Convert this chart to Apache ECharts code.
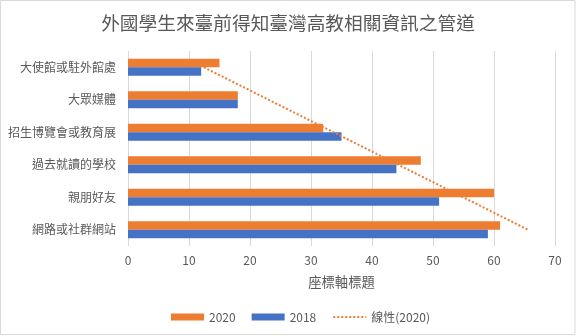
<!DOCTYPE html>
<html><head><meta charset="utf-8">
<script src="https://cdn.jsdelivr.net/npm/echarts@6/dist/echarts.min.js"></script>
<style>html,body{margin:0;padding:0;background:#fff}#c{width:576px;height:336px}</style>
</head><body><div id="c"></div>
<script>
const categories = ['大使館或駐外館處','大眾媒體','招生博覽會或教育展','過去就讀的學校','親朋好友','網路或社群網站'];
const values2020 = [15, 18, 32, 48, 60, 61];
const values2018 = [12, 18, 35, 44, 51, 59];
const xTicks = [0, 10, 20, 30, 40, 50, 60, 70];
const titleText = '外國學生來臺前得知臺灣高教相關資訊之管道';
const axisTitle = '座標軸標題';
const trendName = '線性(2020)';

// Linear trendline (least squares) of 2020 series over category index
const n = values2020.length;
const xs = values2020.map((_, i) => i + 1);
const mx = xs.reduce((a, b) => a + b, 0) / n;
const my = values2020.reduce((a, b) => a + b, 0) / n;
let sxy = 0, sxx = 0;
xs.forEach((x, i) => { sxy += (x - mx) * (values2020[i] - my); sxx += (x - mx) * (x - mx); });
const slope = sxy / sxx, icpt = my - slope * mx;
const trend = [[slope * 1 + icpt, 0], [slope * n + icpt, n - 1]];

const FONT = '"Noto Sans CJK TC", "Noto Sans", sans-serif';
const chart = echarts.init(document.getElementById('c'));
chart.setOption({
  animation: false,
  textStyle: { fontFamily: FONT },
  title: { text: titleText, left: 'center', top: 9, textStyle: { fontFamily: FONT, fontSize: 18.7, fontWeight: 'normal', color: '#595959' } },
  graphic: [{ type: 'rect', shape: { x: 0.5, y: 0.5, width: 574.5, height: 334 }, style: { fill: 'none', stroke: '#D9D9D9', lineWidth: 1 }, silent: true }],
  grid: { left: 128, right: 21, top: 51, bottom: 90, containLabel: false },
  legend: {
    left: 166, top: 306, itemWidth: 33, itemHeight: 7, itemGap: 16,
    textStyle: { fontFamily: FONT, fontSize: 12, color: '#595959' },
    data: [
      { name: '2020', icon: 'rect' },
      { name: '2018', icon: 'rect' },
      { name: trendName, itemStyle: { opacity: 0 } }
    ]
  },
  xAxis: {
    type: 'value', min: 0, max: 70, interval: 10,
    name: axisTitle, nameLocation: 'middle', nameGap: 29,
    nameTextStyle: { fontFamily: FONT, fontSize: 13.3, color: '#595959' },
    axisLine: { show: false }, axisTick: { show: false },
    axisLabel: { fontFamily: FONT, fontSize: 12, color: '#595959', margin: 8 },
    splitLine: { show: true, lineStyle: { color: '#D9D9D9', width: 1 } }
  },
  yAxis: {
    type: 'category', data: categories, inverse: true,
    axisLine: { show: false }, axisTick: { show: false },
    axisLabel: { fontFamily: FONT, fontSize: 12, color: '#595959', margin: 12 }
  },
  series: [
    { name: '2020', type: 'bar', data: values2020, barWidth: 8.5, barGap: '0%', itemStyle: { color: '#ED7D31' } },
    { name: '2018', type: 'bar', data: values2018, barWidth: 8.5, barGap: '0%', itemStyle: { color: '#4472C4' } },
    { name: trendName, type: 'line', data: trend, symbol: 'none', showSymbol: false,
      lineStyle: { color: '#ED7D31', width: 2, type: [2, 2] }, itemStyle: { color: '#ED7D31' }, z: 5 }
  ]
});
</script></body></html>
